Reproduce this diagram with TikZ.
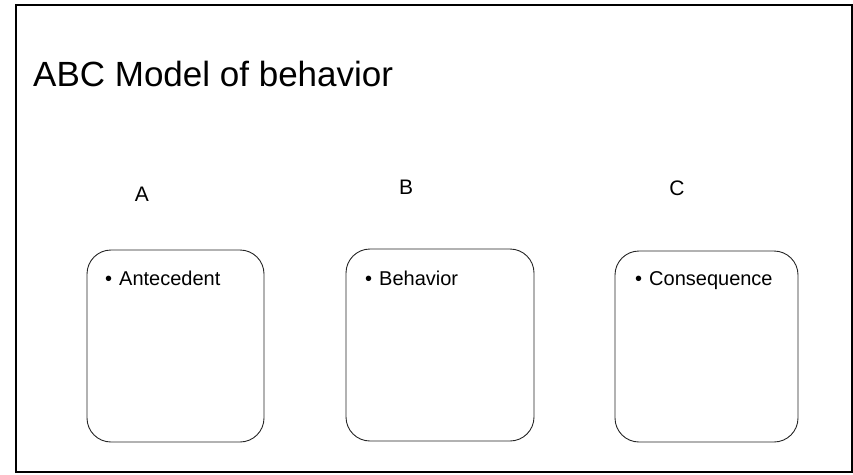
\documentclass[tikz,border=0pt]{standalone}
\usepackage{fontspec}
\setmainfont{Liberation Sans}
\begin{document}
\begin{tikzpicture}[x=1pt,y=-1pt,
  slideframe/.style={draw=black, line width=1.6pt},
  abcbox/.style={draw=black!85, line width=0.9pt, rounded corners=24pt},
  letter/.style={font=\fontsize{21}{25}\selectfont, anchor=base},
  item/.style={font=\fontsize{20}{24}\selectfont, anchor=base west, inner sep=0pt}]
  \useasboundingbox (0,0) rectangle (853,474);
  % slide border
  \draw[slideframe] (16,5) rectangle (852,472);
  % title
  \node[anchor=base west, inner sep=0pt, font=\fontsize{35}{40}\selectfont] (title) at (33,86) {ABC Model of behavior};
  % column letters
  \node[letter] (la) at (142,201) {A};
  \node[letter] (lb) at (406,194) {B};
  \node[letter] (lc) at (677,195) {C};
  % the three boxes
  \draw[abcbox] (87,250) rectangle (264,442);
  \coordinate (boxA) at (87,250);
  \draw[abcbox] (346,249) rectangle (534,441);
  \coordinate (boxB) at (346,249);
  \draw[abcbox] (615,251) rectangle (798,442);
  \coordinate (boxC) at (615,251);
  % bullet items
  \node[item] (ia) at (105,285) {\textbullet\hspace{7pt}Antecedent};
  \node[item] (ib) at (365,285) {\textbullet\hspace{7pt}Behavior};
  \node[item] (ic) at (635,285) {\textbullet\hspace{7pt}Consequence};
\end{tikzpicture}
\end{document}
